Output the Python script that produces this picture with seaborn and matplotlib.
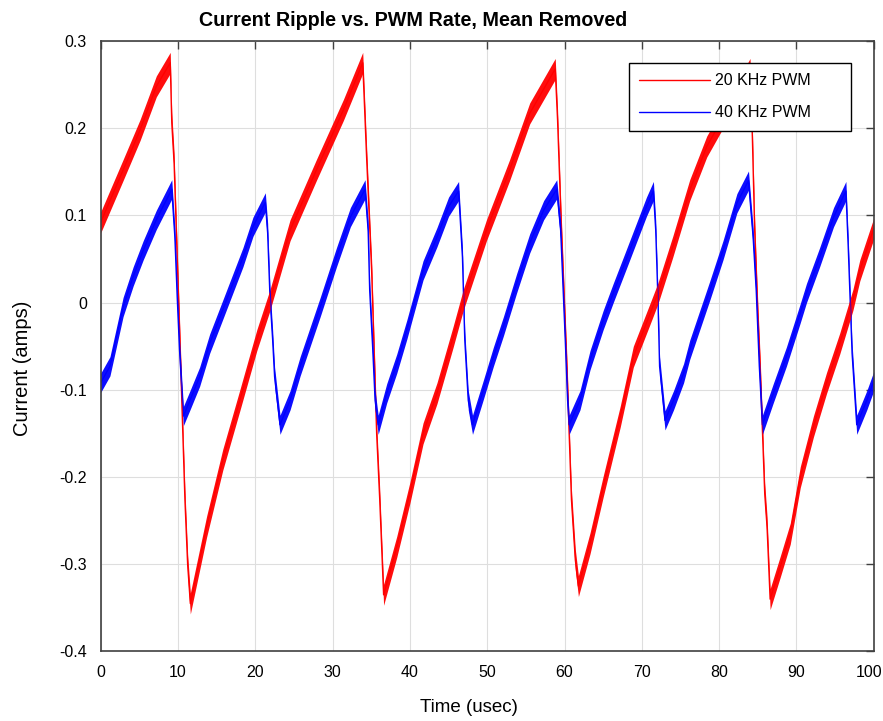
import matplotlib
matplotlib.use("Agg")
import matplotlib.pyplot as plt
from matplotlib.transforms import ScaledTranslation
import numpy as np
import pandas as pd
import seaborn as sns

# 20 kHz PWM current ripple (centre of the noisy trace), time in usec, current in amps
red_t = [0, 2.9, 5.1, 7.2, 9.0, 9.2, 9.5, 10.3, 10.9, 11.25, 11.6,
         13.7, 15.8, 18.0, 20.2, 21.9, 24.5, 27.9, 31.4, 33.9,
         34.4, 35.05, 35.7, 36.1, 36.6,
         38.3, 40.0, 41.7, 43.5, 45.6, 46.9, 49.9, 52.9, 55.5, 58.8,
         59.1, 59.6, 60.3, 60.9, 61.4, 61.8,
         63.3, 65.0, 67.2, 68.9, 71.1, 72.1, 74.0, 76.2, 78.4, 81.0, 84.0,
         84.3, 84.6, 85.0, 85.3, 85.9, 86.2, 86.6,
         87.9, 89.2, 90.5, 92.2, 93.9, 95.6, 97.3, 98.2, 100]
red_i = [0.092, 0.152, 0.198, 0.248, 0.275, 0.206, 0.16, -0.058, -0.226, -0.30, -0.345,
         -0.257, -0.18, -0.112, -0.043, 0.003, 0.083, 0.152, 0.221, 0.275,
         0.167, 0.037, -0.15, -0.226, -0.335,
         -0.28, -0.218, -0.15, -0.104, -0.039, 0.003, 0.083, 0.152, 0.217, 0.268,
         0.21, 0.083, -0.073, -0.226, -0.295, -0.325,
         -0.276, -0.211, -0.131, -0.062, -0.012, 0.011, 0.064, 0.129, 0.179, 0.22, 0.268,
         0.19, 0.083, -0.012, -0.073, -0.219, -0.257, -0.34,
         -0.303, -0.265, -0.2, -0.142, -0.092, -0.047, 0.003, 0.037, 0.085]

# 40 kHz PWM current ripple
blue_t = [0, 1.2, 2.9, 4.2, 5.5, 7.2, 9.2, 9.6, 9.9, 10.2, 10.7,
          11.55, 12.8, 14.1, 15.8, 17.1, 18.4, 19.7, 21.3,
          21.6, 21.9, 22.25, 22.5, 23.2,
          24.5, 25.8, 27.1, 28.4, 30.5, 32.3, 34.2,
          34.6, 34.8, 35.2, 35.5, 35.9,
          37.0, 38.3, 39.6, 41.7, 43.5, 45.0, 46.3,
          46.8, 47.1, 47.55, 48.1,
          49.5, 50.8, 52.1, 53.8, 55.5, 57.3, 59.0,
          59.5, 60.1, 60.4, 60.6,
          62.0, 63.3, 65.0, 66.3, 68.0, 69.3, 70.6, 71.5,
          71.8, 72.1, 72.3, 73.0,
          74.1, 75.4, 76.2, 77.5, 78.8, 80.5, 82.3, 83.8,
          84.4, 84.8, 85.2, 85.6,
          87.0, 88.7, 90.5, 91.3, 93.0, 94.8, 96.4,
          96.7, 97.2, 97.8,
          99.1, 100]
blue_i = [-0.092, -0.073, -0.005, 0.03, 0.06, 0.095, 0.13, 0.075, 0.007, -0.054, -0.13,
          -0.112, -0.085, -0.047, -0.008, 0.022, 0.052, 0.087, 0.115,
          0.08, 0.007, -0.043, -0.085, -0.14,
          -0.112, -0.073, -0.039, -0.005, 0.052, 0.098, 0.13,
          0.083, 0.014, -0.054, -0.112, -0.14,
          -0.104, -0.07, -0.031, 0.037, 0.075, 0.11, 0.128,
          0.052, -0.043, -0.112, -0.14,
          -0.1, -0.062, -0.027, 0.022, 0.068, 0.106, 0.13,
          0.083, -0.043, -0.112, -0.14,
          -0.112, -0.066, -0.02, 0.011, 0.05, 0.08, 0.11, 0.128,
          0.083, 0.0, -0.073, -0.135,
          -0.112, -0.081, -0.054, -0.02, 0.014, 0.06, 0.114, 0.14,
          0.075, 0.014, -0.073, -0.14,
          -0.104, -0.062, -0.012, 0.011, 0.052, 0.098, 0.128,
          0.064, -0.058, -0.14,
          -0.112, -0.09]

# peak-to-centre amplitude of the switching noise riding on each trace
red_noise = 0.012
blue_noise = 0.011

series_names = ["20 KHz PWM", "40 KHz PWM"]
x_ticks = [0, 10, 20, 30, 40, 50, 60, 70, 80, 90, 100]
y_ticks = [-0.4, -0.3, -0.2, -0.1, 0, 0.1, 0.2, 0.3]
y_tick_labels = ["-0.4", "-0.3", "-0.2", "-0.1", "0", "0.1", "0.2", "0.3"]

sns.set_theme(style="white")
plt.rcParams["font.family"] = ["Liberation Sans", "DejaVu Sans"]
plt.rcParams["axes.unicode_minus"] = False
plt.rcParams["text.color"] = "black"
plt.rcParams["axes.labelcolor"] = "black"
plt.rcParams["axes.titlecolor"] = "black"

df = pd.concat([
    pd.DataFrame({"t": red_t, "i": red_i, "series": series_names[0]}),
    pd.DataFrame({"t": blue_t, "i": blue_i, "series": series_names[1]}),
], ignore_index=True)

fig = plt.figure(figsize=(8.83, 7.21), dpi=100)
ax = fig.add_axes([0.114, 0.0964, 0.8755, 0.8467])

colors = {"20 KHz PWM": "#ff0000", "40 KHz PWM": "#0000ff"}
noise = {"20 KHz PWM": red_noise, "40 KHz PWM": blue_noise}

sns.lineplot(data=df, x="t", y="i", hue="series", palette=colors,
             estimator=None, sort=False, linewidth=1.0, ax=ax)
for name in series_names:
    sub = df[df["series"] == name]
    ax.fill_between(sub["t"], sub["i"] - noise[name], sub["i"] + noise[name],
                    color=colors[name], linewidth=0, alpha=0.95, zorder=2)

ax.set_xlim(0, 100)
ax.set_ylim(-0.4, 0.3)
ax.set_xticks(x_ticks)
ax.set_xticklabels([str(v) for v in x_ticks])
ax.set_yticks(y_ticks)
ax.set_yticklabels(y_tick_labels)
ax.grid(True, color="#dedede", linewidth=0.8)
ax.set_axisbelow(True)
for side in ["left", "right", "top", "bottom"]:
    ax.spines[side].set_visible(True)
    ax.spines[side].set_color("#404040")
    ax.spines[side].set_linewidth(1.2)
ax.tick_params(axis="both", which="both", direction="in", length=6, width=1.0,
               color="#404040", top=True, right=True, labelsize=11.5,
               labelcolor="#000000", pad=10)
ax.tick_params(axis="y", pad=10)

# keep the last x tick label inside the figure
last = ax.get_xticklabels()[-1]
last.set_transform(last.get_transform() + ScaledTranslation(-0.05, 0, fig.dpi_scale_trans))

ax.set_xlabel("Time (usec)", fontsize=13.5)
ax.xaxis.set_label_coords(0.4765, -0.078)
ax.set_ylabel("Current (amps)", fontsize=14.5)
ax.yaxis.set_label_coords(-0.0889, 0.464)
ax.set_title("Current Ripple vs. PWM Rate, Mean Removed", fontsize=14.2,
             fontweight="bold", color="black", x=0.404, y=1.0246, pad=0)

leg = ax.legend(loc="upper left", bbox_to_anchor=(0.6835, 0.854, 0.2871, 0.11),
                mode="expand", borderaxespad=0, fancybox=False,
                edgecolor="#000000", framealpha=1, fontsize=11.5,
                handlelength=4.4, labelspacing=1.05, borderpad=0.65,
                handletextpad=0.3, title=None)
leg.get_frame().set_linewidth(1.0)
for line in leg.get_lines():
    line.set_linewidth(1.0)
for txt in leg.get_texts():
    txt.set_color("black")

fig.savefig("out.png", dpi=100, facecolor="white")
